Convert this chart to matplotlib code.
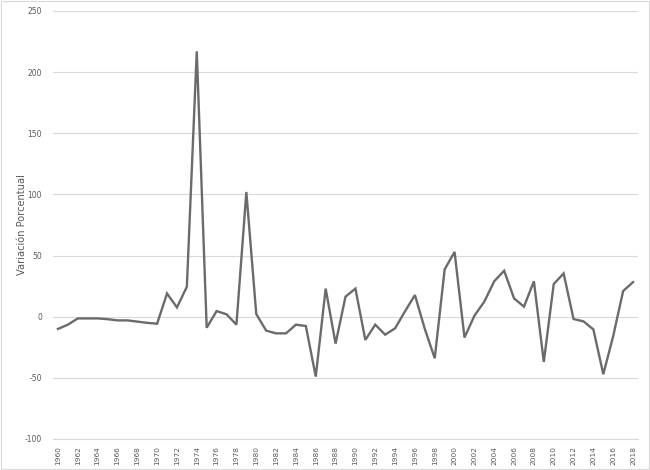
import numpy
import matplotlib
matplotlib.use("Agg")
import matplotlib.pyplot as plt
from matplotlib.patches import Rectangle

### Data ###
years = list(range(1960, 2019))
variacion = [
	-10, -6.5, -1.4, -1.4, -1.4, -2, -3, -3, -4, -5,
	-5.7, 19, 7.6, 24.5, 217, -9, 4.6, 2, -6.5, 102,
	2.2, -11.4, -13.6, -13.6, -6.5, -7.6, -49, 23, -22, 16.4,
	23, -19, -6.5, -14.7, -9.5, 4.4, 17.7, -10, -34, 38.7,
	53, -17, 0.8, 12.3, 29, 37.6, 15, 8.2, 29, -37,
	26.7, 35.4, -1.9, -3.8, -10.4, -47, -15.8, 21, 28.3,
]
yTicks = [-100, -50, 0, 50, 100, 150, 200, 250]
xTickYears = years[::2]

### Figure ###
fig = plt.figure(figsize=(6.5, 4.7), dpi=100, facecolor='w')
ax = fig.add_axes([53/650, 1 - 439/470, (638 - 53)/650, (439 - 11)/470])

# chart border
fig.patches.append(Rectangle((0.002, 0.003), 0.996, 0.994, transform=fig.transFigure,
	fill=False, edgecolor='#d9d9d9', linewidth=0.8))

ax.plot(years, variacion, color='#6b6b6b', linewidth=1.7, solid_joinstyle='miter', zorder=3)

# limits
ax.set_xlim(1959.5, 2018.5)
ax.set_ylim(-100, 250)

# ticks
ax.set_yticks(yTicks)
ax.set_yticklabels([str(t) for t in yTicks], fontsize=5.5, color='#595959')
ax.set_xticks(xTickYears)
ax.set_xticklabels([str(y) for y in xTickYears], fontsize=5.3, color='#595959', rotation=90)
ax.tick_params(axis='y', length=0, pad=8)
ax.tick_params(axis='x', length=0, pad=5)

# grid
ax.grid(visible=True, axis='y', color='#d9d9d9', linewidth=0.8)
ax.set_axisbelow(True)
for side in ['top', 'right', 'left']:
	ax.spines[side].set_visible(False)
ax.spines['bottom'].set_color('#d9d9d9')
ax.spines['bottom'].set_linewidth(0.8)

ax.set_ylabel('Variación Porcentual', fontsize=7.1, color='#595959')
ax.yaxis.set_label_coords(-0.044, 0.5)

plt.savefig('out.png', dpi=100)
plt.close(fig)
